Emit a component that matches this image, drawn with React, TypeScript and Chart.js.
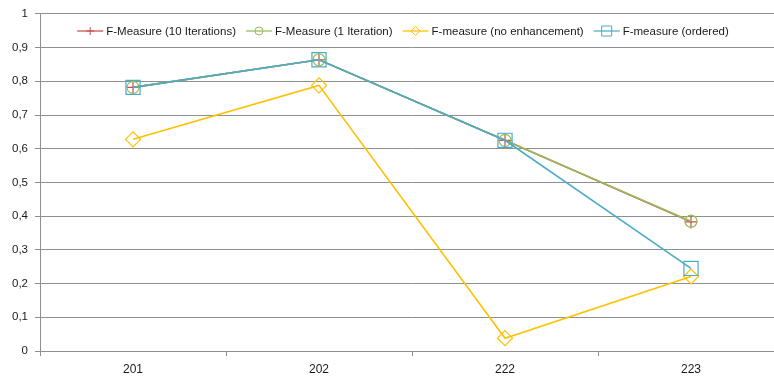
import { useEffect, useRef } from "react";
import { Chart, registerables } from "chart.js";

Chart.register(...registerables);

// Test sets on the x axis and the F-measure of each run
const categories = ["201", "202", "222", "223"];
const fMeasure10Iterations = [0.782, 0.864, 0.625, 0.383];
const fMeasure1Iteration = [0.782, 0.864, 0.625, 0.385];
const fMeasureNoEnhancement = [0.628, 0.788, 0.038, 0.221];
const fMeasureOrdered = [0.782, 0.864, 0.625, 0.245];

const seriesLabels = [
  "F-Measure (10 Iterations)",
  "F-Measure (1 Iteration)",
  "F-measure (no enhancement)",
  "F-measure (ordered)",
];
const seriesColors = ["#C0504D", "#9BBB59", "#FFC000", "#4BACC6"];
const seriesMarkers = ["cross", "circle", "rectRot", "rect"];
const seriesMarkerSizes = [6.5, 6, 7.5, 10];

const yMin = 0;
const yMax = 1;
const yStep = 0.1;

const FONT = '"Liberation Sans", Arial, sans-serif';
const GRID = "#8f8f8f";

// Small line + marker legend drawn inside the plot, like a spreadsheet chart
function drawLegendMarker(ctx: CanvasRenderingContext2D, kind: string, x: number, y: number) {
  ctx.beginPath();
  if (kind === "cross") {
    const r = 4;
    ctx.moveTo(x - r, y);
    ctx.lineTo(x + r, y);
    ctx.moveTo(x, y - r);
    ctx.lineTo(x, y + r);
  } else if (kind === "circle") {
    ctx.arc(x, y, 4, 0, Math.PI * 2);
  } else if (kind === "rectRot") {
    const r = 4.5;
    ctx.moveTo(x - r, y);
    ctx.lineTo(x, y - r);
    ctx.lineTo(x + r, y);
    ctx.lineTo(x, y + r);
    ctx.closePath();
  } else {
    const h = 5;
    ctx.rect(x - h, y - h, 2 * h, 2 * h);
  }
  ctx.stroke();
}

const lineLegend = {
  id: "lineLegend",
  afterDraw(chart: any) {
    const ctx: CanvasRenderingContext2D = chart.ctx;
    ctx.save();
    ctx.font = `11.5px ${FONT}`;
    ctx.textBaseline = "middle";
    ctx.textAlign = "left";
    const lineLen = 26;
    const gapText = 3;
    const gapItem = 10;
    const widths = seriesLabels.map((l) => ctx.measureText(l).width);
    const total =
      widths.reduce((s, w) => s + lineLen + gapText + w, 0) + gapItem * (seriesLabels.length - 1);
    const centerX = 403;
    const y = 31;
    let x = centerX - total / 2;
    seriesLabels.forEach((label, i) => {
      ctx.strokeStyle = seriesColors[i];
      ctx.lineWidth = 1.25;
      ctx.beginPath();
      ctx.moveTo(x, y);
      ctx.lineTo(x + lineLen, y);
      ctx.stroke();
      ctx.lineWidth = 1;
      drawLegendMarker(ctx, seriesMarkers[i], x + lineLen / 2, y);
      ctx.fillStyle = "#1a1a1a";
      ctx.fillText(label, x + lineLen + gapText, y + 1);
      x += lineLen + gapText + widths[i] + gapItem;
    });
    ctx.restore();
  },
};

export default function App() {
  const canvasRef = useRef<HTMLCanvasElement | null>(null);

  useEffect(() => {
    document.body.style.margin = "0";
    document.body.style.overflow = "hidden";
    const canvas = canvasRef.current;
    if (!canvas) return;

    const seriesData = [
      fMeasure10Iterations,
      fMeasure1Iteration,
      fMeasureNoEnhancement,
      fMeasureOrdered,
    ];

    const chart = new Chart(canvas, {
      type: "line",
      data: {
        labels: categories,
        datasets: seriesData.map((data, i) => ({
          label: seriesLabels[i],
          data,
          borderColor: seriesColors[i],
          backgroundColor: "rgba(0,0,0,0)",
          borderWidth: 1.6,
          pointStyle: seriesMarkers[i] as any,
          pointRadius: seriesMarkerSizes[i],
          pointHoverRadius: seriesMarkerSizes[i],
          pointBorderColor: seriesColors[i],
          pointBackgroundColor: "rgba(0,0,0,0)",
          pointBorderWidth: 1.2,
          tension: 0,
          fill: false,
          // later series sit on top of earlier ones
          order: seriesData.length - 1 - i,
        })),
      },
      options: {
        responsive: false,
        animation: false,
        layout: { padding: { left: 0, right: 16, top: 12, bottom: 0 } },
        plugins: {
          legend: { display: false },
          tooltip: { enabled: false },
        },
        scales: {
          x: {
            offset: true,
            afterFit: (scale: any) => {
              scale.height = 29;
            },
            grid: {
              offset: true,
              drawOnChartArea: false,
              drawTicks: true,
              tickLength: 5,
              color: GRID,
            },
            border: { color: GRID, width: 1 },
            ticks: {
              color: "#1a1a1a",
              font: { family: FONT, size: 12 },
              padding: 6,
              maxRotation: 0,
            },
          },
          y: {
            min: yMin,
            max: yMax,
            afterFit: (scale: any) => {
              scale.width = 40;
            },
            grid: {
              color: GRID,
              lineWidth: 1,
              drawTicks: true,
              tickLength: 5,
            },
            border: { color: GRID, width: 1 },
            ticks: {
              stepSize: yStep,
              color: "#1a1a1a",
              font: { family: FONT, size: 11.5 },
              padding: 7,
              callback: (v: any) => String(Number(Number(v).toFixed(1))).replace(".", ","),
            },
          },
        },
      },
      plugins: [lineLegend],
    });

    return () => chart.destroy();
  }, []);

  return (
    <div style={{ position: "fixed", left: 0, top: 0, width: 774, height: 380, overflow: "hidden", background: "#fff" }}>
      <canvas ref={canvasRef} width={800} height={380} style={{ display: "block" }} />
    </div>
  );
}
